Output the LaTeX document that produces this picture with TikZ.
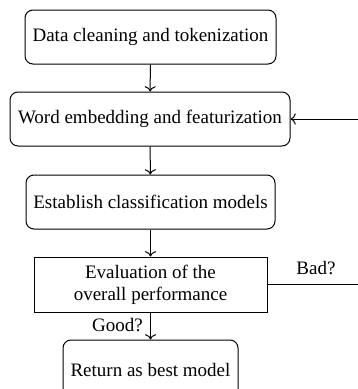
\documentclass[tikz,border=0pt]{standalone}
\usepackage{fontspec}
\setmainfont{Liberation Serif}
\usetikzlibrary{arrows.meta}
\begin{document}
\begin{tikzpicture}[x=1pt,y=-1pt,
  base/.style={draw,line width=1pt,inner sep=0pt,align=center,font=\fontsize{19}{22}\selectfont},
  rbox/.style={base,rounded corners=8pt},
  sbox/.style={base},
  conn/.style={line width=1pt,-{To[scale=1.4]}},
  lbl/.style={font=\fontsize{19}{22}\selectfont,inner sep=0pt}]
\useasboundingbox (0,0) rectangle (358,389);
\node[rbox,minimum width=251pt,minimum height=54pt] (b1) at (150.5,37) {Data cleaning and tokenization};
\node[rbox,minimum width=280pt,minimum height=54pt] (b2) at (150,119) {Word embedding and featurization};
\node[rbox,minimum width=249pt,minimum height=54pt] (b3) at (150.5,202) {Establish classification models};
\node[sbox,minimum width=233pt,minimum height=55pt] (b4) at (150.5,284.5) {Evaluation of the\\overall performance};
\node[rbox,minimum width=175pt,minimum height=64pt] (b5) at (150.5,372) {\raisebox{4pt}{Return as best model}};
\coordinate (r1) at (358,119);
\coordinate (r2) at (358,284.5);
\draw[conn] (b1) -- (b2);
\draw[conn] (b2) -- (b3);
\draw[conn] (b3) -- (b4);
\draw[conn] (b4) -- (b5);
\draw[conn] (r1) -- (b2.east);
\draw[line width=1pt] (b4.east) -- (r2);
\node[lbl] (bad) at (316,268) {Bad?};
\node[lbl,anchor=east] (good) at (143,325) {Good?};
\end{tikzpicture}
\end{document}
